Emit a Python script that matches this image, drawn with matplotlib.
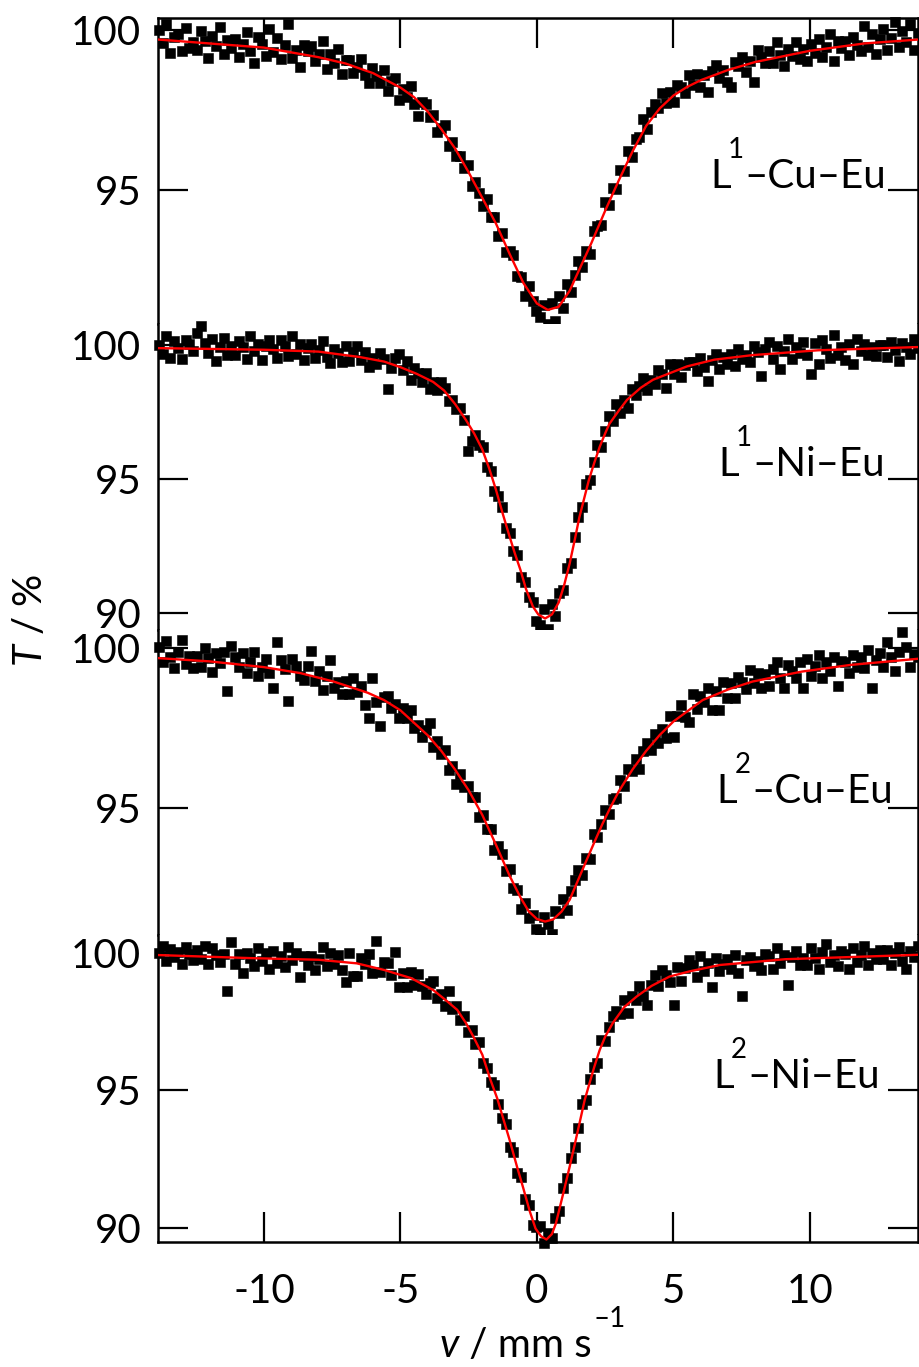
import numpy as np
import matplotlib
matplotlib.use('Agg')
import matplotlib.pyplot as plt
from matplotlib import transforms

plt.rcParams['font.family'] = ['Lato', 'DejaVu Sans']
plt.rcParams['mathtext.fontset'] = 'custom'
plt.rcParams['mathtext.rm'] = 'Lato'
plt.rcParams['mathtext.it'] = 'Lato:italic'
plt.rcParams['axes.unicode_minus'] = False

# velocity channels, mm/s
velocity = np.linspace(-13.85, 13.95, 200)

# label parts: ligand, its superscript, metals
label_base = ['L', 'L', 'L', 'L']
label_sup = ['1', '1', '2', '2']
label_rest = ['–Cu–Eu', '–Ni–Eu', '–Cu–Eu', '–Ni–Eu']

# measured transmission (%)
t_l1_cu = [
    100.00, 99.60, 100.18, 99.28, 99.78, 99.88, 99.35, 100.05, 99.43, 99.64,
    99.37, 99.97, 99.67, 99.11, 99.81, 99.51, 100.10, 99.24, 99.69, 99.43,
    99.72, 99.16, 99.55, 99.95, 99.33, 98.97, 99.77, 99.55, 99.19, 100.03,
    99.32, 99.75, 99.09, 99.52, 100.20, 99.14, 99.37, 98.85, 99.52, 99.35,
    99.50, 99.02, 99.25, 99.67, 98.79, 99.26, 98.98, 99.40, 98.62, 99.05,
    99.05, 98.65, 98.85, 99.10, 98.60, 98.35, 98.80, 98.55, 98.35, 98.75,
    98.10, 98.40, 98.50, 97.80, 98.15, 97.90, 98.25, 97.68, 97.30, 97.75,
    97.70, 97.27, 97.35, 96.80, 96.95, 97.03, 96.37, 96.50, 96.05, 96.05,
    95.70, 95.78, 95.11, 95.24, 94.92, 94.49, 94.71, 94.14, 94.17, 93.57,
    93.65, 93.05, 93.08, 92.97, 92.32, 92.27, 91.69, 92.00, 91.53, 91.21,
    91.03, 91.40, 90.80, 91.47, 90.90, 91.67, 91.32, 92.05, 91.82, 92.35,
    92.77, 92.58, 93.10, 93.01, 93.73, 93.86, 93.89, 94.62, 94.54, 95.05,
    95.02, 95.63, 95.60, 96.22, 96.03, 96.58, 96.67, 97.23, 96.90, 97.43,
    97.70, 97.56, 98.03, 97.73, 98.07, 97.75, 98.27, 98.23, 98.04, 98.59,
    98.29, 98.64, 98.23, 98.58, 98.07, 98.71, 98.91, 98.50, 98.75, 98.39,
    98.23, 99.01, 98.89, 99.17, 98.70, 99.03, 98.36, 99.39, 99.17, 98.96,
    99.34, 98.96, 99.64, 99.21, 98.89, 99.41, 99.19, 99.61, 99.09, 99.41,
    99.04, 99.56, 99.28, 99.72, 99.15, 99.47, 99.89, 99.04, 99.65, 99.45,
    99.66, 99.22, 99.78, 99.54, 99.35, 100.11, 99.47, 99.89, 99.25, 99.72,
    100.03, 99.39, 99.75, 100.25, 99.46, 99.97, 99.63, 100.19, 99.39, 99.90,
]
t_l1_ni = [
    99.98, 99.68, 100.33, 99.53, 100.13, 99.88, 99.48, 100.18, 100.03, 99.78,
    100.46, 100.70, 100.06, 99.71, 100.21, 99.41, 99.91, 100.26, 99.61, 99.96,
    99.64, 100.14, 99.94, 99.49, 100.33, 99.78, 100.02, 99.42, 99.97, 100.17,
    99.86, 99.51, 100.20, 99.95, 99.59, 100.34, 99.68, 100.03, 99.42, 99.87,
    100.03, 99.52, 99.81, 100.15, 99.55, 99.33, 99.86, 99.69, 99.38, 99.97,
    99.40, 99.73, 99.95, 99.42, 99.75, 99.18, 99.51, 99.29, 99.71, 99.48,
    98.35, 99.13, 99.52, 99.66, 99.05, 99.39, 98.68, 99.13, 98.97, 98.60,
    98.97, 98.35, 98.62, 98.33, 98.60, 98.40, 97.90, 97.95, 97.60, 97.65,
    97.20, 96.05, 96.40, 96.65, 96.25, 96.20, 95.45, 95.30, 94.55, 94.35,
    93.95, 93.18, 92.97, 92.30, 92.15, 91.35, 91.15, 90.60, 90.40, 89.70,
    89.55, 90.15, 89.42, 90.35, 89.90, 90.75, 90.85, 91.70, 91.85, 92.85,
    93.60, 93.95, 94.80, 94.95, 95.65, 96.25, 96.20, 96.80, 97.35, 97.15,
    97.80, 97.48, 97.95, 97.65, 98.37, 98.13, 98.48, 98.78, 98.33, 98.68,
    98.55, 99.07, 98.93, 98.38, 99.28, 98.93, 99.27, 98.82, 99.26, 99.35,
    99.35, 99.03, 99.50, 99.18, 98.65, 99.43, 99.65, 99.12, 99.55, 99.27,
    99.65, 99.22, 99.84, 99.46, 99.63, 99.35, 99.97, 99.73, 98.84, 99.85,
    100.11, 99.46, 99.97, 99.12, 99.79, 100.22, 99.49, 99.93, 99.70, 100.12,
    99.63, 98.93, 100.08, 99.28, 100.20, 99.85, 99.52, 100.38, 99.63, 99.94,
    99.45, 100.05, 99.30, 100.21, 99.76, 100.02, 99.62, 99.93, 99.58, 99.99,
    100.00, 99.55, 100.10, 99.80, 99.40, 100.06, 99.91, 99.66, 100.22, 99.87,
]
t_l2_cu = [
    100.02, 99.57, 100.22, 99.71, 99.36, 99.86, 100.25, 99.50, 99.74, 99.38,
    99.75, 99.40, 100.00, 99.70, 99.25, 99.84, 99.54, 99.86, 98.65, 100.05,
    99.72, 99.40, 99.83, 99.22, 99.55, 99.88, 99.12, 99.40, 99.64, 99.23,
    98.75, 100.20, 99.61, 99.34, 98.35, 99.65, 99.43, 99.11, 99.00, 99.42,
    99.90, 98.97, 99.28, 98.70, 99.11, 99.63, 98.74, 98.95, 98.57, 98.98,
    98.55, 99.06, 98.62, 98.82, 98.22, 97.80, 99.05, 98.32, 97.55, 98.47,
    98.50, 98.12, 98.24, 97.80, 98.11, 97.81, 98.06, 97.50, 97.59, 97.23,
    97.42, 97.66, 96.90, 97.10, 96.68, 96.80, 96.18, 96.31, 95.75, 96.05,
    95.65, 95.70, 95.33, 95.35, 94.73, 94.77, 94.35, 94.33, 93.68, 93.80,
    93.55, 93.02, 93.10, 92.50, 92.45, 91.85, 92.02, 91.56, 91.67, 91.22,
    91.12, 91.60, 91.36, 91.05, 91.77, 91.73, 92.15, 91.82, 92.40, 92.75,
    93.05, 92.90, 93.45, 93.42, 94.20, 94.08, 94.50, 94.95, 94.80, 95.27,
    95.30, 95.87, 95.68, 96.22, 96.15, 96.53, 96.23, 96.78, 97.02, 96.81,
    97.30, 97.04, 97.48, 97.20, 97.87, 97.23, 97.88, 98.22, 97.85, 97.68,
    98.56, 98.08, 98.50, 98.32, 98.74, 98.05, 98.66, 98.07, 98.92, 98.42,
    98.91, 98.45, 99.09, 98.93, 98.72, 99.31, 98.90, 99.23, 98.76, 99.19,
    98.81, 99.33, 99.55, 99.07, 98.74, 99.46, 99.28, 99.05, 99.56, 98.76,
    99.64, 99.11, 99.42, 99.79, 99.06, 99.57, 99.29, 99.71, 98.82, 99.59,
    99.56, 99.22, 99.79, 99.40, 99.72, 99.38, 99.94, 98.75, 99.62, 99.83,
    99.39, 100.20, 99.71, 99.27, 99.88, 100.50, 100.04, 99.40, 99.80, 99.71,
]
t_l2_ni = [
    100.00, 100.25, 99.70, 100.15, 99.85, 100.05, 99.60, 100.20, 99.95, 99.75,
    100.11, 99.76, 100.26, 99.61, 100.16, 99.91, 99.66, 99.96, 98.61, 100.41,
    99.61, 99.96, 99.26, 100.01, 99.81, 99.51, 100.16, 99.71, 100.01, 99.41,
    100.08, 99.63, 99.88, 99.48, 100.23, 99.73, 99.98, 99.13, 99.88, 99.57,
    99.88, 99.38, 99.78, 100.22, 99.52, 100.01, 99.61, 99.94, 99.38, 98.95,
    99.99, 99.15, 99.15, 99.82, 99.59, 99.96, 99.28, 100.45, 99.32, 99.68,
    99.64, 99.20, 100.05, 98.75, 99.27, 98.77, 99.31, 98.85, 99.23, 98.81,
    98.49, 98.91, 98.97, 98.37, 98.52, 98.07, 98.60, 97.97, 98.08, 97.55,
    97.70, 97.13, 97.18, 96.70, 96.75, 96.00, 95.83, 95.30, 95.20, 94.50,
    94.00, 93.78, 92.95, 92.75, 92.00, 91.85, 91.05, 90.85, 90.10, 90.02,
    90.08, 89.45, 89.83, 89.63, 90.38, 90.62, 91.45, 91.80, 92.55, 92.95,
    93.65, 94.50, 94.65, 95.43, 95.85, 96.00, 96.85, 96.80, 97.30, 97.70,
    97.90, 97.78, 98.28, 97.82, 98.45, 98.30, 98.80, 98.45, 98.10, 98.85,
    99.18, 98.81, 99.38, 99.19, 98.94, 98.10, 99.48, 98.97, 99.45, 99.73,
    99.56, 99.14, 99.87, 99.35, 99.63, 98.75, 99.82, 99.34, 99.61, 99.78,
    99.40, 99.91, 99.27, 98.45, 99.74, 99.85, 99.51, 99.72, 99.38, 99.95,
    99.87, 99.43, 100.19, 99.65, 99.94, 98.85, 99.85, 100.06, 99.56, 99.83,
    99.57, 100.17, 99.82, 99.42, 100.02, 100.32, 99.67, 99.92, 99.52, 100.07,
    99.96, 99.41, 100.16, 99.66, 99.91, 100.26, 99.56, 100.01, 99.76, 100.11,
    99.76, 100.11, 99.56, 100.01, 100.21, 99.71, 99.41, 100.06, 99.86, 100.26,
]

# fitted curves (velocity, transmission)
fit_v_l1_cu = [-13.85, -12, -10, -8, -7, -6, -5, -4.5, -4, -3.5, -3, -2.5, -2, -1.5, -1, -0.5,
               0, 0.4, 0.8, 1.2, 1.6, 2.0, 2.5, 3.0, 3.5, 4.0, 4.5, 5, 5.5, 6, 7, 8, 10, 12, 13.95]
fit_t_l1_cu = [99.70, 99.58, 99.45, 99.15, 98.95, 98.65, 98.2, 97.9, 97.45, 96.9, 96.3, 95.55, 94.75, 93.95, 93.0, 92.1,
               91.45, 91.25, 91.35, 91.85, 92.6, 93.35, 94.35, 95.3, 96.2, 97.0, 97.55, 97.95, 98.22, 98.43, 98.75, 99.0, 99.35, 99.58, 99.70]

fit_v_l1_ni = [-13.85, -10, -8, -6.5, -5.6, -5.0, -4.4, -3.8, -3.4, -3.0, -2.6, -2.3, -2.0, -1.75, -1.5, -1.25, -1.0, -0.8,
               -0.6, -0.4, -0.15, 0.05, 0.3, 0.55, 0.8, 1.0, 1.2, 1.4, 1.55, 1.75, 1.9, 2.1, 2.3, 2.5, 2.65, 3.0, 3.3,
               3.8, 4.25, 5.5, 6.5, 7.9, 10.3, 13.95]
fit_t_l1_ni = [99.88, 99.82, 99.75, 99.55, 99.38, 99.17, 98.92, 98.62, 98.3, 97.8, 97.2, 96.7, 96.1, 95.4, 94.6, 93.7, 92.85, 92.2,
               91.6, 90.9, 90.25, 89.95, 89.8, 89.95, 90.4, 91.05, 91.85, 92.8, 93.55, 94.35, 94.95, 95.6, 96.2, 96.7, 97.05, 97.55, 97.95,
               98.4, 98.7, 99.2, 99.45, 99.62, 99.8, 99.92]

fit_v_l2_cu = [-13.85, -12, -10, -8.65, -7.45, -6.2, -5.6, -5.0, -4.5, -4.0, -3.5, -3.0, -2.5, -2.0, -1.5, -1.0, -0.6, -0.3,
               0.0, 0.3, 0.6, 0.9, 1.2, 1.5, 1.8, 2.1, 2.4, 2.7, 3.0, 3.5, 4.0, 4.5, 5.0, 6.07, 7.0, 7.9, 9.7, 11.5, 13.95]
fit_t_l2_cu = [99.68, 99.58, 99.4, 99.21, 98.95, 98.6, 98.37, 98.05, 97.66, 97.27, 96.78, 96.2, 95.55, 94.78, 93.85, 92.88, 92.2, 91.77,
               91.53, 91.45, 91.52, 91.76, 92.13, 92.73, 93.33, 93.92, 94.5, 95.03, 95.52, 96.2, 96.78, 97.28, 97.7, 98.37, 98.7, 98.95, 99.26, 99.47, 99.66]

fit_v_l2_ni = [-13.85, -10.5, -8.0, -6.6, -5.6, -4.6, -3.8, -3.3, -2.92, -2.6, -2.33, -2.0, -1.7, -1.45, -1.22, -1.0, -0.73, -0.5,
               -0.26, -0.05, 0.15, 0.35, 0.55, 0.7, 0.84, 1.0, 1.2, 1.4, 1.57, 1.75, 1.93, 2.1, 2.3, 2.5, 2.78, 3.2, 3.65, 4.2,
               4.86, 5.6, 6.7, 9.1, 13.95]
fit_t_l2_ni = [99.92, 99.81, 99.75, 99.62, 99.38, 99.08, 98.65, 98.25, 97.93, 97.45, 96.96, 96.3, 95.38, 94.7, 93.93, 93.2, 92.23, 91.45,
               90.6, 89.98, 89.7, 89.58, 89.78, 90.18, 90.75, 91.4, 92.23, 93.1, 93.85, 94.65, 95.27, 95.85, 96.47, 96.95, 97.45, 98.03, 98.41, 98.8,
               99.14, 99.33, 99.56, 99.77, 99.93]

spectra = [t_l1_cu, t_l1_ni, t_l2_cu, t_l2_ni]
fits = [(fit_v_l1_cu, fit_t_l1_cu), (fit_v_l1_ni, fit_t_l1_ni),
        (fit_v_l2_cu, fit_t_l2_cu), (fit_v_l2_ni, fit_t_l2_ni)]

# layout in pixels of the original (top, bottom of each panel)
W, H = 920, 1367
panel_px = [(18, 324), (324, 630), (630, 935), (935, 1242)]
ylims = [(90.81, 100.375), (89.37, 100.78), (91.03, 100.56), (89.49, 100.65)]
label_pos = [(6.34, 95.06), (6.63, 95.12), (6.59, 95.15), (6.45, 95.08)]
FS = 29
FS_SUP = 20

fig = plt.figure(figsize=(W / 100, H / 100), dpi=100)
renderer = fig.canvas.get_renderer()


def write_parts(target, base_trans, x, y, parts):
    # parts: (string, fontsize, rise in px, gap in px before, style)
    dx = 0.0
    for s, size, rise, gap, style in parts:
        dx += gap
        tr = transforms.offset_copy(base_trans, x=dx, y=rise, units='dots')
        t = target.text(x, y, s, transform=tr, fontsize=size, style=style,
                        ha='left', va='baseline', zorder=4)
        dx += t.get_window_extent(renderer).width


for i in range(4):
    top, bot = panel_px[i]
    ax = fig.add_axes([158 / W, 1 - bot / H, 760 / W, (bot - top) / H])
    ax.plot(velocity, spectra[i], 's', ms=6.5, mew=0.4, color='black', mec='black',
            clip_on=False, zorder=2)
    ax.plot(fits[i][0], fits[i][1], '-', color='red', lw=1.7, zorder=3)
    ax.set_xticks([-10, -5, 0, 5, 10])
    ax.set_yticks([90, 95, 100])
    ax.set_xlim(-13.88, 13.96)
    ax.set_ylim(*ylims[i])
    for s in ax.spines.values():
        s.set_linewidth(1.8)
    ax.spines['top'].set_visible(i == 0)
    ax.spines['bottom'].set_visible(i == 3)
    ax.tick_params(axis='both', direction='in', length=21.5, width=1.6, labelsize=FS)
    ax.tick_params(axis='y', left=True, right=True, labelleft=True, labelright=False, pad=12)
    ax.tick_params(axis='x', top=(i == 0), bottom=(i == 3), labelbottom=(i == 3),
                   labeltop=False, pad=22)
    write_parts(ax, ax.transData, label_pos[i][0], label_pos[i][1],
                [(label_base[i], FS, 0, 0, 'normal'),
                 (label_sup[i], FS_SUP, 30, -3, 'normal'),
                 (label_rest[i], FS, 0, 1, 'normal')])

write_parts(fig, fig.transFigure, 440 / W, 1 - 1357 / H,
            [('v', FS, 0, 0, 'italic'),
             (' / mm s', FS, 0, 0, 'normal'),
             ('–1', FS_SUP, 30, 2, 'normal')])
fig.text(0.033, 1 - 620 / H, '$T$ / %', ha='center', va='center', rotation=90, fontsize=FS)

fig.savefig('out.png', dpi=100)
